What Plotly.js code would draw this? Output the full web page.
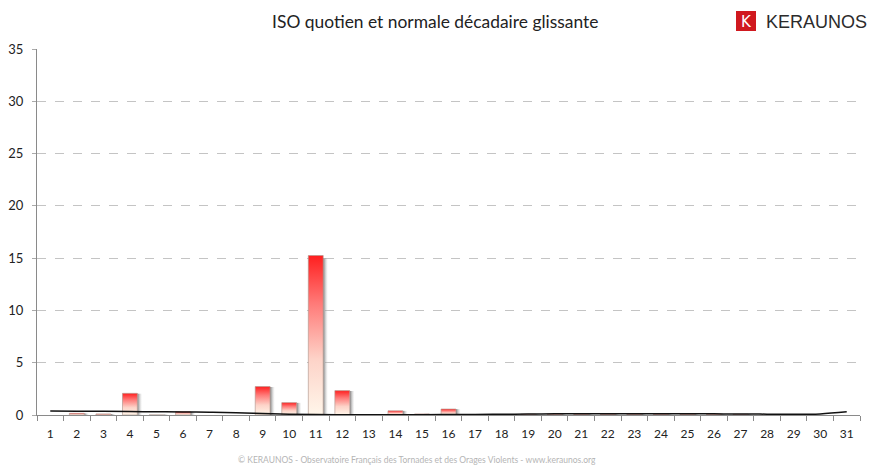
<!DOCTYPE html>
<html>
<head>
<meta charset="utf-8">
<script src="https://cdn.plot.ly/plotly-3.0.1.min.js"></script>
<style>html,body{margin:0;padding:0;background:#fff;}#chart{width:874px;height:472px;}</style>
</head>
<body>
<div id="chart"></div>
<script>
// Days of the month
const days = [1,2,3,4,5,6,7,8,9,10,11,12,13,14,15,16,17,18,19,20,21,22,23,24,25,26,27,28,29,30,31];
// ISO quotient (bars)
const isoQuotient = [0,0.16,0.1,2.07,0.05,0.33,0,0,2.72,1.18,15.25,2.33,0,0.4,0.1,0.57,0,0.06,0.08,0.08,0.08,0.08,0.08,0.08,0.08,0.08,0.08,0.06,0,0,0];
// Sliding ten-day normal (line)
const normaleDecadaire = [0.38,0.37,0.35,0.33,0.31,0.29,0.26,0.22,0.15,0.08,0.04,0.03,0.03,0.03,0.03,0.04,0.05,0.07,0.09,0.11,0.12,0.13,0.13,0.12,0.12,0.11,0.1,0.08,0.06,0.1,0.3];
const yTicks = [0,5,10,15,20,25,30,35];

const HALF = 0.28;
const traces = [];
days.forEach((d, i) => {
  const v = isoQuotient[i];
  if (!(v > 0)) return;
  // shadow
  traces.push({
    type: 'scatter', mode: 'none', hoverinfo: 'skip', showlegend: false,
    x: [d + HALF, d + HALF + 0.18, d + HALF + 0.18, d + HALF, d + HALF],
    y: [0, 0, v * 0.985, v * 0.985, 0],
    fill: 'toself',
    fillgradient: {type: 'horizontal', start: d + HALF, stop: d + HALF + 0.18,
      colorscale: [[0, 'rgba(100,100,100,0.85)'], [1, 'rgba(200,200,200,0)']]}
  });
  // bar with vertical gradient
  traces.push({
    type: 'scatter', mode: 'lines', hoverinfo: 'skip', showlegend: false,
    x: [d - HALF, d + HALF, d + HALF, d - HALF, d - HALF],
    y: [0, 0, v, v, 0],
    fill: 'toself',
    line: {color: 'rgba(175,150,140,0.8)', width: 0.8},
    fillgradient: {type: 'vertical', start: 0, stop: v,
      colorscale: [[0, '#fff6ea'], [0.35, '#fdd3c8'], [0.7, '#ff7a78'], [1, '#ff1f1f']]}
  });
});
traces.push({
  type: 'scatter', mode: 'lines', x: days, y: normaleDecadaire, showlegend: false,
  line: {color: '#111', width: 1.5, shape: 'spline'}, hoverinfo: 'skip'
});

const layout = {
  width: 874, height: 472,
  margin: {l: 37, r: 14, t: 49, b: 57},
  paper_bgcolor: '#fff', plot_bgcolor: '#fff',
  font: {family: 'Lato, "Open Sans", sans-serif', color: '#222', size: 12},
  title: {text: 'ISO quotien et normale décadaire glissante', font: {size: 17.4, color: '#222', family: 'Lato, sans-serif'},
    xref: 'container', x: 0.498, xanchor: 'center', yref: 'container', y: 0.953, yanchor: 'middle'},
  xaxis: {
    range: [0.5, 31.5], tickmode: 'array', tickvals: days, ticktext: days.map(String),
    ticks: '', showgrid: false, zeroline: false, showline: true, linecolor: '#8a8a8a', linewidth: 1,
    ticklabelstandoff: 8, tickfont: {size: 12, color: '#222'},
    minor: {tick0: 0.5, dtick: 1, ticks: 'outside', ticklen: 5, tickcolor: '#8a8a8a', showgrid: false},
    fixedrange: true
  },
  yaxis: {
    range: [0, 35], tickmode: 'array', tickvals: yTicks, ticks: 'outside', ticklen: 4, tickcolor: '#aaa',
    showgrid: true, gridcolor: '#c4c4c4', griddash: 'dash', gridwidth: 1,
    zeroline: false, showline: true, linecolor: '#8a8a8a', linewidth: 1,
    ticklabelstandoff: 6, tickfont: {size: 13, color: '#222'}, fixedrange: true
  },
  shapes: [
    {type: 'rect', xref: 'paper', yref: 'paper', xsizemode: 'pixel', ysizemode: 'pixel',
      xanchor: 0, yanchor: 1, x0: 699, x1: 719, y0: 38, y1: 18, fillcolor: '#d0191f', line: {width: 0}}
  ],
  annotations: [
    {text: 'K', xref: 'paper', yref: 'paper', x: (746 - 37) / 823, y: 1 + (49 - 22) / 366,
      showarrow: false, font: {family: 'DejaVu Sans, sans-serif', size: 15, color: '#fff'}, xanchor: 'center', yanchor: 'middle'},
    {text: 'KERAUNOS', xref: 'paper', yref: 'paper', x: (764 - 37) / 823, y: 1 + (49 - 22) / 366,
      showarrow: false, font: {family: '"Liberation Sans", Arial, sans-serif', size: 18, color: '#2b2b2b'}, xanchor: 'left', yanchor: 'middle'},
    {text: '© KERAUNOS - Observatoire Français des Tornades et des Orages Violents - www.keraunos.org',
      xref: 'paper', yref: 'paper', x: (417 - 37) / 823, y: -(460 - 415) / 366,
      showarrow: false, font: {size: 8.5, color: '#b5b5b5'}, xanchor: 'center', yanchor: 'middle'}
  ]
};

Plotly.newPlot('chart', traces, layout, {displayModeBar: false, staticPlot: true});
</script>
</body>
</html>
